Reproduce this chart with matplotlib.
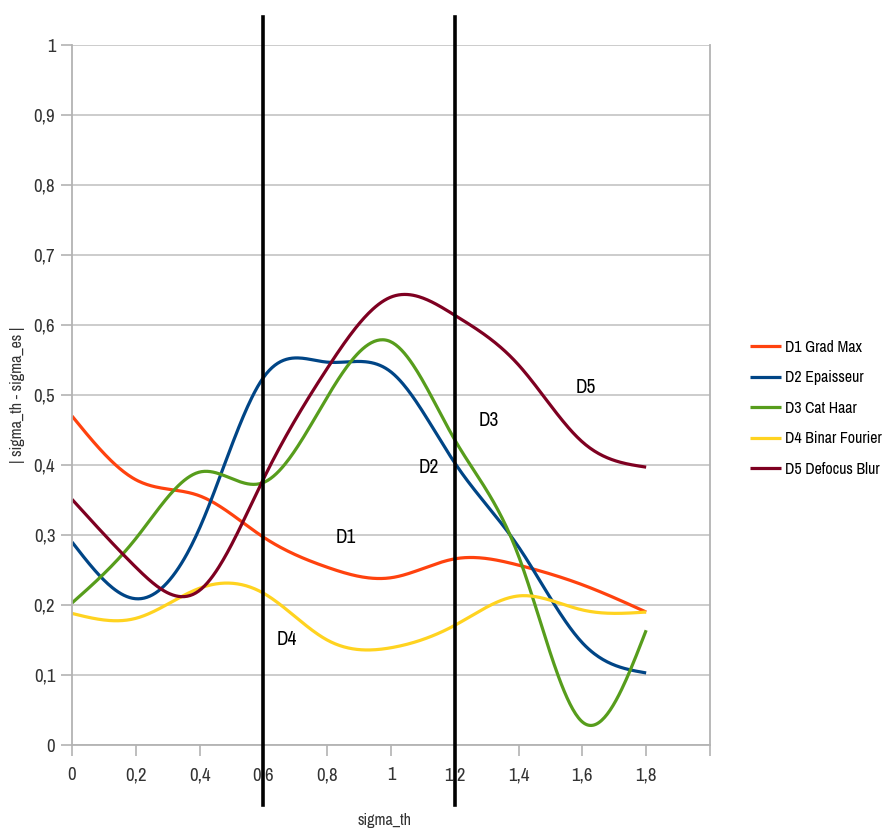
import numpy as np
import matplotlib.pyplot as plt
from matplotlib.ticker import FuncFormatter
from matplotlib import font_manager

# pick a narrow face if one is installed, else Liberation Sans
fam = 'Liberation Sans'
stretch = 'normal'
for f in font_manager.fontManager.ttflist:
    if 'Narrow' in f.name or 'Condensed' in f.name:
        fam = f.name
        break
else:
    for f in font_manager.fontManager.ttflist:
        if f.stretch in ('condensed', 'semi-condensed', 700, 600) and f.name in ('DejaVu Sans', 'Roboto', 'Open Sans', 'Noto Sans'):
            fam = f.name
            stretch = 'condensed'
            break
plt.rcParams['font.family'] = [fam, 'DejaVu Sans']
plt.rcParams['font.stretch'] = stretch

# data
sigma_th = [0, 0.2, 0.4, 0.6, 0.8, 1.0, 1.2, 1.4, 1.6, 1.8]
d1_grad_max = [0.470, 0.379, 0.356, 0.297, 0.254, 0.239, 0.266, 0.257, 0.229, 0.190]
d2_epaisseur = [0.290, 0.209, 0.310, 0.525, 0.547, 0.533, 0.403, 0.283, 0.146, 0.103]
d3_cat_haar = [0.203, 0.295, 0.390, 0.375, 0.497, 0.576, 0.436, 0.270, 0.033, 0.164]
d4_binar_fourier = [0.188, 0.181, 0.224, 0.217, 0.150, 0.139, 0.171, 0.213, 0.193, 0.190]
d5_defocus_blur = [0.351, 0.254, 0.221, 0.380, 0.538, 0.640, 0.614, 0.543, 0.433, 0.397]

series = [
    ('D1 Grad Max', d1_grad_max, '#ff420e'),
    ('D2 Epaisseur', d2_epaisseur, '#004586'),
    ('D3 Cat Haar', d3_cat_haar, '#579d1c'),
    ('D4 Binar Fourier', d4_binar_fourier, '#ffd320'),
    ('D5 Defocus Blur', d5_defocus_blur, '#7e0021'),
]

# in-plot labels (text, x, y)
labels = [('D1', 0.857, 0.297), ('D2', 1.118, 0.396), ('D3', 1.306, 0.463),
          ('D4', 0.672, 0.151), ('D5', 1.61, 0.511)]
vlines = [0.6, 1.2]


def natural_spline(x, y, n=400):
    # smooth curve like the office "cubic spline" line type
    x = np.asarray(x, float)
    y = np.asarray(y, float)
    k = len(x)
    h = np.diff(x)
    A = np.zeros((k, k))
    b = np.zeros(k)
    A[0, 0] = A[-1, -1] = 1
    for i in range(1, k - 1):
        A[i, i - 1] = h[i - 1]
        A[i, i] = 2 * (h[i - 1] + h[i])
        A[i, i + 1] = h[i]
        b[i] = 6 * ((y[i + 1] - y[i]) / h[i] - (y[i] - y[i - 1]) / h[i - 1])
    M = np.linalg.solve(A, b)
    xs = np.linspace(x[0], x[-1], n)
    idx = np.clip(np.searchsorted(x, xs) - 1, 0, k - 2)
    x0, x1 = x[idx], x[idx + 1]
    hh = x1 - x0
    t0, t1 = x1 - xs, xs - x0
    ys = (M[idx] * t0**3 + M[idx + 1] * t1**3) / (6 * hh) \
        + (y[idx] / hh - M[idx] * hh / 6) * t0 + (y[idx + 1] / hh - M[idx + 1] * hh / 6) * t1
    return xs, ys


fig = plt.figure(figsize=(8.86, 8.33), dpi=100)
ax = fig.add_axes([0.0813, 0.1056, 0.7200, 0.8403])

for name, vals, col in series:
    xs, ys = natural_spline(sigma_th, vals)
    ax.plot(xs, ys, color=col, lw=2.3, label=name, solid_capstyle='butt')

for v in vlines:
    ax.axvline(v, ymin=-0.086, ymax=1.04, color='black', lw=2.6, clip_on=False, zorder=5)

for t, x, y in labels:
    ax.text(x, y, t, fontsize=14, ha='center', va='center', color='black')

ax.set_xlim(0, 2)
ax.set_ylim(0, 1)
ax.set_xticks(np.arange(0, 2.01, 0.2))
ax.set_yticks(np.arange(0, 1.01, 0.1))


def comma(v, pos):
    if abs(v - 2) < 1e-6:
        return ''
    s = ('%.1f' % v).rstrip('0').rstrip('.')
    return s.replace('.', ',')


ax.xaxis.set_major_formatter(FuncFormatter(comma))
ax.yaxis.set_major_formatter(FuncFormatter(comma))
ax.tick_params(axis='both', colors='#b3b3b3', labelcolor='#333333', labelsize=13.5, length=8, width=1.2)
ax.tick_params(axis='x', pad=8)
ax.tick_params(axis='y', pad=4)
ax.grid(axis='y', color='#c8c8c8', lw=1.3)
ax.set_axisbelow(True)
ax.spines['top'].set_visible(False)
for s in ['left', 'right', 'bottom']:
    ax.spines[s].set_color('#b3b3b3')
    ax.spines[s].set_linewidth(1.3)

ax.set_xlabel('sigma_th', fontsize=11.5, color='#333333')
ax.xaxis.set_label_coords(0.49, -0.097)
ax.set_ylabel('| sigma_th - sigma_es |', fontsize=11.5, color='#333333')
ax.yaxis.set_label_coords(-0.074, 0.5)

fig.legend(loc='center left', bbox_to_anchor=(0.846, 0.51), frameon=False, fontsize=11.4,
           handlelength=2.0, handletextpad=0.25, labelspacing=0.98, borderaxespad=0, borderpad=0)

fig.savefig('out.png', dpi=100)
